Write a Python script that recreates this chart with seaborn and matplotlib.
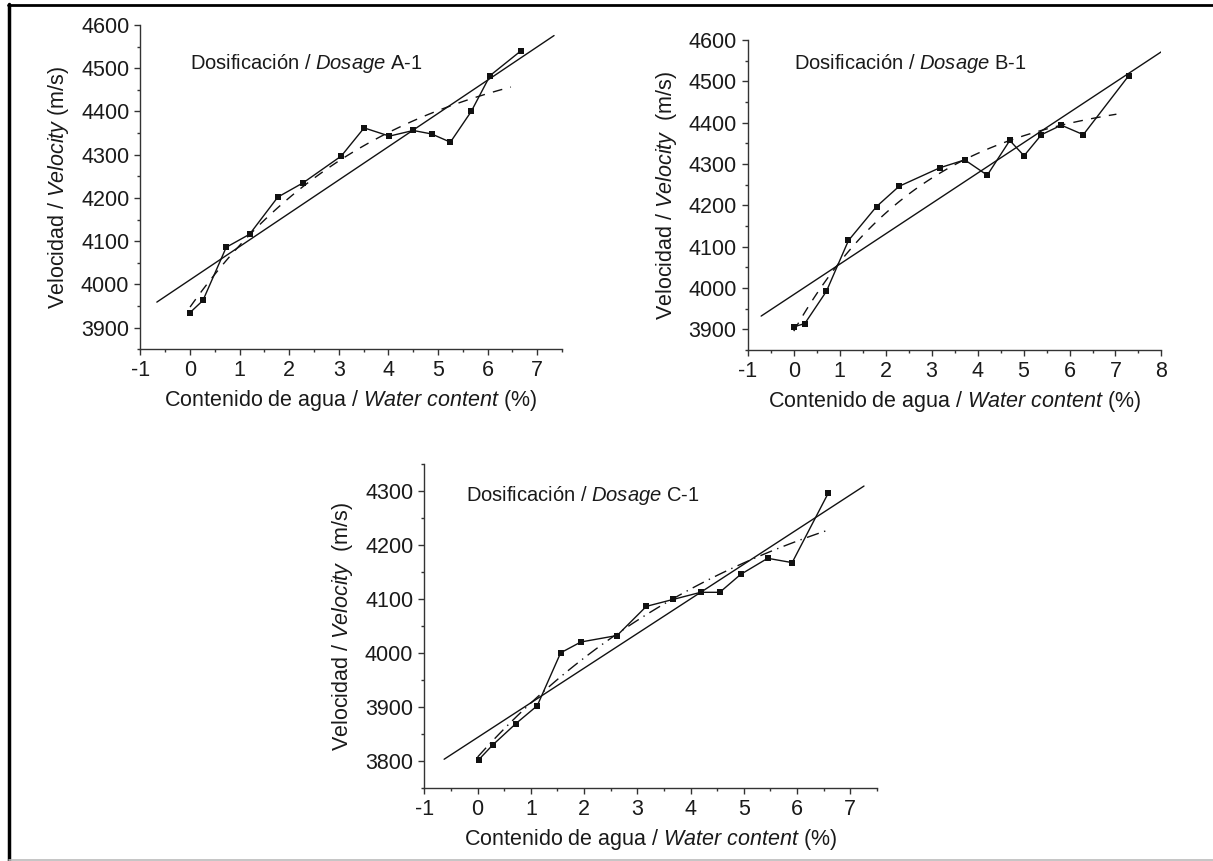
import numpy as np
import pandas as pd
import seaborn as sns
import matplotlib
matplotlib.use("Agg")
import matplotlib.pyplot as plt
from matplotlib.lines import Line2D
from matplotlib.ticker import MultipleLocator

# ---- data ----
water_a = [0.0, 0.26, 0.73, 1.20, 1.77, 2.28, 3.05, 3.51, 4.02, 4.50, 4.87, 5.25, 5.67, 6.05, 6.67]
vel_a = [3935, 3963, 4086, 4116, 4202, 4235, 4297, 4362, 4343, 4356, 4348, 4329, 4400, 4483, 4540]

water_b = [0.0, 0.24, 0.71, 1.19, 1.80, 2.29, 3.18, 3.72, 4.21, 4.70, 5.01, 5.39, 5.82, 6.30, 7.29]
vel_b = [3906, 3914, 3992, 4115, 4197, 4246, 4291, 4310, 4273, 4357, 4320, 4371, 4394, 4371, 4514]

water_c = [0.02, 0.28, 0.72, 1.12, 1.56, 1.94, 2.62, 3.17, 3.68, 4.19, 4.55, 4.94, 5.45, 5.91, 6.59]
vel_c = [3803, 3830, 3870, 3903, 4001, 4021, 4033, 4087, 4100, 4113, 4113, 4146, 4176, 4168, 4297]

titles = ["A-1", "B-1", "C-1"]
ylabel_texts = ["Velocidad / $\\it{Velocity}$ (m/s)",
                "Velocidad / $\\it{Velocity}$  (m/s)",
                "Velocidad / $\\it{Velocity}$  (m/s)"]
xlims = [(-1, 7.5), (-1, 8), (-1, 7.5)]
ylims = [(3850, 4600), (3850, 4600), (3750, 4350)]
xticks = [list(range(-1, 8)), list(range(-1, 9)), list(range(-1, 8))]
yticks = [list(range(3900, 4601, 100)), list(range(3900, 4601, 100)), list(range(3800, 4301, 100))]
lin_span = [(-0.67, 7.34), (-0.71, 8.0), (-0.63, 7.26)]
curve_span = [(0.0, 6.47), (0.0, 7.02), (0.0, 6.58)]
label_pos = [(0.0, 4511), (0.0, 4543), (-0.21, 4292)]


def exp_assoc_fit(x, y):
    """Least-squares fit of y = y0 + A*exp(-x/t), scanning t."""
    x = np.asarray(x, float)
    y = np.asarray(y, float)
    best = None
    for t in np.linspace(0.5, 60, 1200):
        X = np.column_stack([np.ones_like(x), np.exp(-x / t)])
        coef, *_ = np.linalg.lstsq(X, y, rcond=None)
        sse = np.sum((X @ coef - y) ** 2)
        if best is None or sse < best[0]:
            best = (sse, coef, t)
    _, (y0, a), t = best
    return lambda xx: y0 + a * np.exp(-np.asarray(xx) / t)


sns.set_theme(style="ticks")
plt.rcParams['font.family'] = ['Liberation Sans', 'DejaVu Sans']
plt.rcParams['mathtext.fontset'] = 'custom'
plt.rcParams['mathtext.it'] = 'Liberation Sans:italic'
plt.rcParams['mathtext.rm'] = 'Liberation Sans'
plt.rcParams['axes.unicode_minus'] = False

fig = plt.figure(figsize=(12.13, 8.61), dpi=100)
positions = [
    [0.1158, 0.5943, 0.3475, 0.3767],
    [0.6165, 0.5935, 0.3410, 0.3600],
    [0.3499, 0.0844, 0.3729, 0.3763],
]
datasets = [(water_a, vel_a), (water_b, vel_b), (water_c, vel_c)]
dash_styles = [(0, (7, 6)), (0, (7, 6)), (0, (9, 4, 1, 4))]
txt = "#1a1a1a"

for i, (wx, vy) in enumerate(datasets):
    ax = fig.add_axes(positions[i])
    df = pd.DataFrame({"x": wx, "y": vy})
    # linear fit
    c1 = np.polyfit(df.x, df.y, 1)
    xl = np.linspace(*lin_span[i], 50)
    sns.lineplot(x=xl, y=np.polyval(c1, xl), ax=ax, color="#111111", lw=1.0)
    # exponential-association fit
    f = exp_assoc_fit(df.x, df.y)
    xq = np.linspace(*curve_span[i], 100)
    ax.plot(xq, f(xq), color="#111111", lw=1.0, linestyle=dash_styles[i])
    # data
    sns.lineplot(data=df, x="x", y="y", ax=ax, color="#111111", lw=1.0,
                 marker="s", markersize=4.8, markeredgewidth=0, markerfacecolor="#111111",
                 sort=False)
    ax.set_xlim(*xlims[i])
    ax.set_ylim(*ylims[i])
    ax.set_xticks(xticks[i])
    ax.set_yticks(yticks[i])
    ax.xaxis.set_minor_locator(MultipleLocator(0.5))
    ax.yaxis.set_minor_locator(MultipleLocator(50))
    ax.tick_params(which="major", direction="out", length=4.5, width=1.0,
                   labelsize=15.5, colors="#333333", labelcolor=txt, pad=3.5)
    ax.tick_params(which="minor", direction="out", length=2.5, width=1.0, colors="#333333")
    for s in ["top", "right"]:
        ax.spines[s].set_visible(False)
    for s in ["left", "bottom"]:
        ax.spines[s].set_linewidth(1.0)
        ax.spines[s].set_color("#333333")
    ax.set_xlabel("Contenido de agua / $\\it{Water\\ content}$ (%)", fontsize=15.5, color=txt, labelpad=5)
    ax.set_ylabel(ylabel_texts[i], fontsize=15.5, color=txt, labelpad=7)
    ax.text(label_pos[i][0], label_pos[i][1],
            "Dosificación / $\\it{Dosage}$ " + titles[i],
            fontsize=14.5, color=txt, va="center", ha="left")

# figure frame
fig.add_artist(Line2D([7.5 / 1213, 1.0], [1 - 4.5 / 861, 1 - 4.5 / 861], color="black", lw=2.0,
                      transform=fig.transFigure))
fig.add_artist(Line2D([8.5 / 1213, 8.5 / 1213], [0.0, 1 - 3.5 / 861], color="black", lw=2.5,
                      transform=fig.transFigure))
fig.add_artist(Line2D([8.5 / 1213, 1.0], [1.2 / 861, 1.2 / 861], color="#bbbbbb", lw=1.2,
                      transform=fig.transFigure))

fig.savefig("out.png", dpi=100)
